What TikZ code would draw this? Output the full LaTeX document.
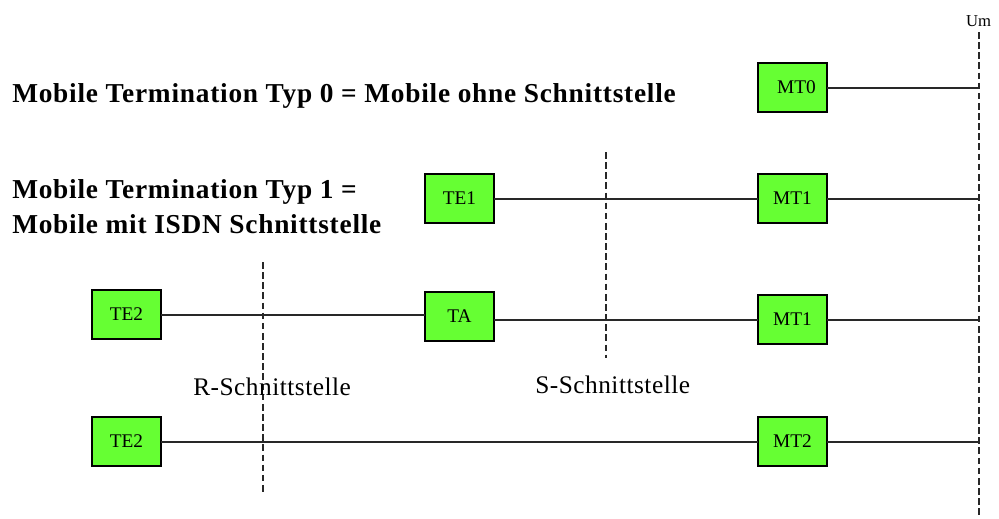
\documentclass[tikz,border=0pt]{standalone}
\usepackage{fontspec}
\setmainfont{Liberation Serif}
\definecolor{boxgreen}{RGB}{102,255,51}
\definecolor{wire}{RGB}{40,40,40}
\begin{document}
\begin{tikzpicture}[x=0.75pt,y=-0.75pt,
  unit/.style={draw=black,fill=boxgreen,line width=1.5pt,minimum width=51.75pt,minimum height=36.75pt,
    inner sep=0pt,outer sep=0pt,font=\fontsize{14.5}{16}\selectfont},
  wireline/.style={draw=wire,line width=1.5pt},
  iface/.style={draw=wire,line width=1.6pt,dash pattern=on 5pt off 2.6pt},
  headline/.style={anchor=base west,inner sep=0pt,
    font=\bfseries\fontsize{20.5}{24}\selectfont\addfontfeature{LetterSpace=2.8}},
  ifacelabel/.style={anchor=base west,inner sep=0pt,
    font=\fontsize{19}{22}\selectfont\addfontfeature{LetterSpace=2}}]
\useasboundingbox (0,0) rectangle (999,518);

% interface boundaries
\coordinate (umtop) at (979,32);
\coordinate (umbot) at (979,518);
\coordinate (stop) at (606,152);
\coordinate (sbot) at (606,358);
\coordinate (rtop) at (263,262);
\coordinate (rbot) at (263,493);
\draw[iface] (umtop) -- (umbot);
\draw[iface] (stop) -- (sbot);
\draw[iface] (rtop) -- (rbot);

% terminals and adapters
\node[unit] (mt0) at (792.5,87.5) {\hspace*{6pt}MT0};
\node[unit] (te1) at (459.5,198.5) {TE1};
\node[unit] (mt1a) at (792.5,198.5) {MT1};
\node[unit] (te2a) at (126.5,314.5) {TE2};
\node[unit] (ta) at (459.5,316.5) {TA};
\node[unit] (mt1b) at (792.5,319.5) {MT1};
\node[unit] (te2b) at (126.5,441.5) {TE2};
\node[unit] (mt2) at (792.5,441.5) {MT2};

% connections
\draw[wireline] (mt0.east) -- (mt0.east -| umtop);
\draw[wireline] (te1.east) -- (mt1a.west);
\draw[wireline] (mt1a.east) -- (mt1a.east -| umtop);
\draw[wireline] (te2a.east) -- (te2a.east -| ta.west);
\draw[wireline] (ta.east |- mt1b.west) -- (mt1b.west);
\draw[wireline] (mt1b.east) -- (mt1b.east -| umtop);
\draw[wireline] (te2b.east) -- (mt2.west);
\draw[wireline] (mt2.east) -- (mt2.east -| umtop);

% texts
\node[anchor=base,inner sep=0pt,font=\fontsize{12.5}{14}\selectfont] (um) at (978.5,26) {Um};
\node[headline] (typ0) at (12,102) {Mobile Termination Typ 0 = Mobile ohne Schnittstelle};
\node[headline] (typ1a) at (12,198) {Mobile Termination Typ 1 =};
\node[headline] (typ1b) at (12,233) {Mobile mit ISDN Schnittstelle};
\node[ifacelabel] (rlabel) at (193,395) {R-Schnittstelle};
\node[ifacelabel] (slabel) at (535,393) {S-Schnittstelle};
\end{tikzpicture}
\end{document}
